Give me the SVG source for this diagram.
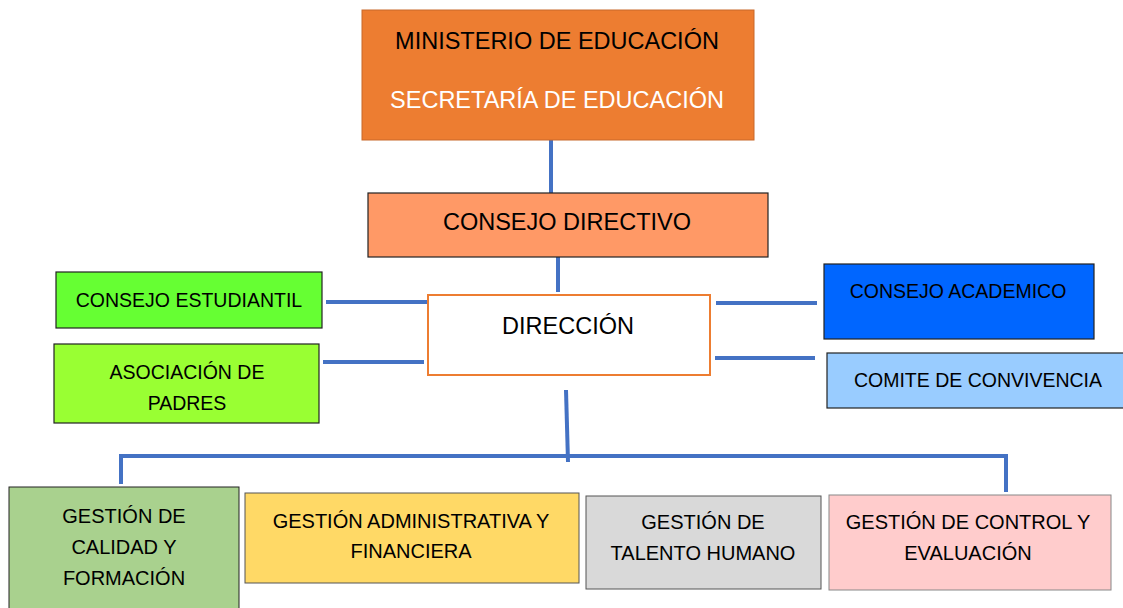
<svg xmlns="http://www.w3.org/2000/svg" width="1123" height="608" viewBox="0 0 1123 608">
<style>
  text { font-family: "Liberation Sans", "Noto Sans", sans-serif; fill: #000; text-anchor: middle; }
  .big { font-size: 23.5px; }
  .mid { font-size: 19.5px; }
  .sm { font-size: 20px; }
  .blk { stroke: #222; stroke-width: 1.2; }
  .con { stroke: #4472C4; stroke-width: 4; fill: none; }
</style>
<rect width="1123" height="608" fill="#fff"/>
<g id="connectors">
  <line class="con" x1="551" y1="140" x2="551" y2="193" stroke-width="5"/>
  <line class="con" x1="558" y1="252" x2="558" y2="292" stroke-width="5"/>
  <line class="con" x1="326" y1="302" x2="427" y2="302"/>
  <line class="con" x1="323" y1="362" x2="424" y2="362"/>
  <line class="con" x1="716" y1="303" x2="817" y2="303"/>
  <line class="con" x1="715" y1="358" x2="815" y2="358"/>
  <line class="con" x1="566" y1="390" x2="568" y2="462" stroke-width="5"/>
  <polyline class="con" points="121,484 121,456 1006,456 1006,492"/>
</g>
<g id="ministerio">
  <rect x="362" y="10" width="392" height="130" fill="#ED7D31" stroke="#C8692A" stroke-width="1"/>
  <text class="big" x="557" y="49">MINISTERIO DE EDUCACIÓN</text>
  <text class="big" x="557" y="108" style="fill:#fff">SECRETARÍA DE EDUCACIÓN</text>
</g>
<g id="consejo-directivo">
  <rect class="blk" x="368" y="193" width="400" height="64" fill="#FF9966"/>
  <text class="big" x="567" y="230">CONSEJO DIRECTIVO</text>
</g>
<g id="direccion">
  <rect x="428" y="295" width="282" height="80" fill="#fff" stroke="#ED7D31" stroke-width="2"/>
  <text class="big" x="568" y="334">DIRECCIÓN</text>
</g>
<g id="consejo-estudiantil">
  <rect class="blk" x="56" y="272" width="266" height="56" fill="#66FF33"/>
  <text class="mid" x="189" y="307">CONSEJO ESTUDIANTIL</text>
</g>
<g id="asociacion-padres">
  <rect class="blk" x="54" y="344" width="265" height="79" fill="#99FF33"/>
  <text class="mid" x="187" y="379">ASOCIACIÓN DE</text>
  <text class="mid" x="187" y="410">PADRES</text>
</g>
<g id="consejo-academico">
  <rect class="blk" x="824" y="264" width="270" height="75" fill="#0066FF"/>
  <text class="mid" x="958" y="298">CONSEJO ACADEMICO</text>
</g>
<g id="comite-convivencia">
  <rect class="blk" x="827" y="353" width="300" height="55" fill="#99CCFF"/>
  <text class="mid" x="978" y="387">COMITE DE CONVIVENCIA</text>
</g>
<g id="gestion-calidad">
  <rect x="9" y="487" width="230" height="125" fill="#A9D18E" stroke="#222" stroke-width="1"/>
  <text class="sm" x="124" y="523">GESTIÓN DE</text>
  <text class="sm" x="124" y="554">CALIDAD Y</text>
  <text class="sm" x="124" y="585">FORMACIÓN</text>
</g>
<g id="gestion-administrativa">
  <rect x="245" y="493" width="334" height="90" fill="#FFD966" stroke="#555" stroke-width="1"/>
  <text class="sm" x="411" y="528">GESTIÓN ADMINISTRATIVA Y</text>
  <text class="sm" x="411" y="558">FINANCIERA</text>
</g>
<g id="gestion-talento">
  <rect x="586" y="496" width="235" height="93" fill="#D9D9D9" stroke="#555" stroke-width="1"/>
  <text class="sm" x="703" y="529">GESTIÓN DE</text>
  <text class="sm" x="703" y="560">TALENTO HUMANO</text>
</g>
<g id="gestion-control">
  <rect x="829" y="495" width="282" height="95" fill="#FFCCCC" stroke="#888" stroke-width="1"/>
  <text class="sm" x="968" y="529">GESTIÓN DE CONTROL Y</text>
  <text class="sm" x="968" y="560">EVALUACIÓN</text>
</g>
</svg>
